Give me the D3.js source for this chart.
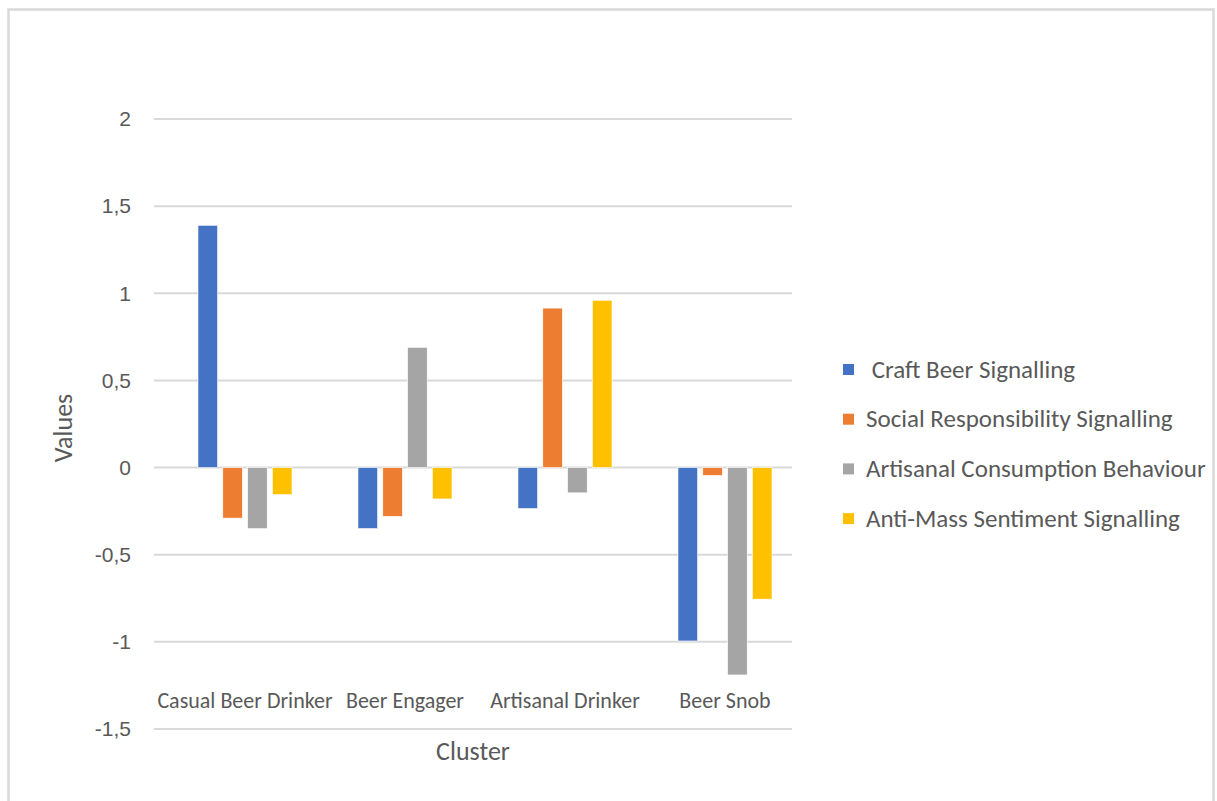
<!DOCTYPE html>
<html>
<head>
<meta charset="utf-8">
<script src="https://cdn.jsdelivr.net/npm/d3@7"></script>
<style>
  body { margin: 0; background: #fff; }
  text { fill: #595959; }
</style>
</head>
<body>
<svg id="chart" width="1217" height="801"></svg>
<script>
// chart data
const clusters = ['Casual Beer Drinker', 'Beer Engager', 'Artisanal Drinker', 'Beer Snob'];
const seriesNames = [
  ' Craft Beer Signalling',
  'Social Responsibility Signalling',
  'Artisanal Consumption Behaviour',
  'Anti-Mass Sentiment Signalling'
];
const craftBeer = [1.39, -0.35, -0.235, -0.995];
const socialResp = [-0.29, -0.28, 0.915, -0.045];
const artisanal = [-0.35, 0.69, -0.145, -1.19];
const antiMass = [-0.155, -0.18, 0.96, -0.755];
const yTicks = [2, 1.5, 1, 0.5, 0, -0.5, -1, -1.5];
const colors = ['#4472C4', '#ED7D31', '#A5A5A5', '#FFC000'];

const seriesValues = [craftBeer, socialResp, artisanal, antiMass];

const svg = d3.select('#chart');
const labelFont = 'Carlito, Calibri, Lato, sans-serif';

// frame round the picture
svg.append('rect')
  .attr('x', 8.5).attr('y', 9.5)
  .attr('width', 1205).attr('height', 820)
  .attr('fill', 'none')
  .attr('stroke', '#d9d9d9')
  .attr('stroke-width', 2.5);

const y = d3.scaleLinear().domain([-1.5, 2]).range([729, 119]);
const x0 = d3.scaleBand().domain(clusters).range([165, 805]);
const groupW = 94;
const x1 = d3.scaleBand().domain(d3.range(seriesNames.length))
  .range([0, groupW]).paddingInner(0.21);
const gridLeft = 154, gridRight = 792;

// gridlines
svg.append('g')
  .selectAll('line')
  .data(yTicks)
  .join('line')
  .attr('x1', gridLeft).attr('x2', gridRight)
  .attr('y1', d => y(d)).attr('y2', d => y(d))
  .attr('stroke', '#d9d9d9')
  .attr('stroke-width', 2);

// y tick labels
svg.append('g')
  .selectAll('text')
  .data(yTicks)
  .join('text')
  .attr('x', 131)
  .attr('y', d => y(d))
  .attr('dy', '0.35em')
  .attr('text-anchor', 'end')
  .style('font-family', 'Liberation Sans, Arial, sans-serif')
  .style('font-size', '21px')
  .text(d => d3.format('')(d).replace('.', ',').replace('−', '-'));

// bars
const rows = clusters.map((c, i) => ({
  cluster: c,
  vals: seriesValues.map((s, k) => ({k, v: s[i]}))
}));
const groups = svg.append('g')
  .selectAll('g')
  .data(rows)
  .join('g')
  .attr('transform', d => `translate(${x0(d.cluster) + (x0.bandwidth() - groupW) / 2},0)`);
groups.selectAll('rect')
  .data(d => d.vals)
  .join('rect')
  .attr('x', d => x1(d.k))
  .attr('width', x1.bandwidth())
  .attr('y', d => y(Math.max(0, d.v)))
  .attr('height', d => Math.abs(y(d.v) - y(0)))
  .attr('fill', d => colors[d.k])
  .attr('stroke', '#fff')
  .attr('stroke-width', 0.6);

// category labels
svg.append('g')
  .selectAll('text')
  .data(clusters)
  .join('text')
  .attr('x', d => x0(d) + x0.bandwidth() / 2)
  .attr('y', 708)
  .attr('text-anchor', 'middle')
  .style('font-family', labelFont)
  .style('font-size', '22px')
  .text(d => d);

// axis titles
svg.append('text')
  .attr('x', 473).attr('y', 760)
  .attr('text-anchor', 'middle')
  .style('font-family', labelFont)
  .style('font-size', '26px')
  .text('Cluster');
svg.append('text')
  .attr('transform', 'translate(72,428) rotate(-90)')
  .attr('text-anchor', 'middle')
  .style('font-family', labelFont)
  .style('font-size', '26px')
  .text('Values');

// legend
const legend = svg.append('g')
  .selectAll('g')
  .data(seriesNames)
  .join('g')
  .attr('transform', (d, i) => `translate(843,${369 + i * 49.7})`);
legend.append('rect')
  .attr('x', 0).attr('y', -5)
  .attr('width', 11).attr('height', 11)
  .attr('fill', (d, i) => colors[i]);
legend.append('text')
  .attr('x', 23)
  .attr('dy', '0.35em')
  .attr('xml:space', 'preserve')
  .style('white-space', 'pre')
  .style('font-family', labelFont)
  .style('font-size', '25px')
  .text(d => d);
</script>
</body>
</html>
